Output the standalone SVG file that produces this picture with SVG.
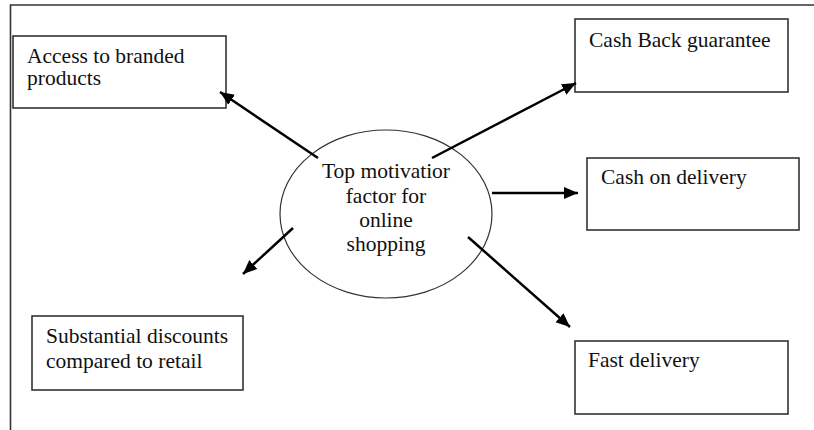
<svg xmlns="http://www.w3.org/2000/svg" width="814" height="430" viewBox="0 0 814 430">
<style>
.box{fill:#fff;stroke:#333;stroke-width:1.6}
.t{font-family:"Liberation Serif","Times New Roman","DejaVu Serif",serif;font-size:21.5px;fill:#111}
.c{text-anchor:middle}
.arr{stroke:#000;stroke-width:2.5;fill:none;marker-end:url(#ah)}
</style>
<defs>
<marker id="ah" markerUnits="userSpaceOnUse" markerWidth="16" markerHeight="14" refX="14" refY="7" orient="auto">
<path d="M0,1 L14,7 L0,13 Z" fill="#000"/>
</marker>
</defs>
<rect width="814" height="430" fill="#fff"/>
<path d="M10.5,430 V5 H814" fill="none" stroke="#333" stroke-width="1.6"/>
<g id="center">
<ellipse cx="386" cy="214" rx="106" ry="84" fill="#fff" stroke="#333" stroke-width="1.2"/>
<text class="t c" x="386" y="178">Top motivatior</text>
<text class="t c" x="386" y="203">factor for</text>
<text class="t c" x="386" y="227">online</text>
<text class="t c" x="386" y="251">shopping</text>
</g>
<g id="access">
<rect class="box" x="13" y="36" width="213" height="72"/>
<text class="t" x="27" y="63">Access to branded</text>
<text class="t" x="27" y="85">products</text>
</g>
<g id="cashback">
<rect class="box" x="575" y="19" width="213" height="73"/>
<text class="t" x="589" y="47">Cash Back guarantee</text>
</g>
<g id="cod">
<rect class="box" x="587" y="158" width="212" height="72"/>
<text class="t" x="601" y="184">Cash on delivery</text>
</g>
<g id="discounts">
<rect class="box" x="32" y="316" width="211" height="74"/>
<text class="t" x="46" y="343">Substantial discounts</text>
<text class="t" x="46" y="368">compared to retail</text>
</g>
<g id="fast">
<rect class="box" x="575" y="341" width="213" height="73"/>
<text class="t" x="588" y="367">Fast delivery</text>
</g>
<g id="connectors">
<line class="arr" x1="318" y1="158" x2="220" y2="92"/>
<line class="arr" x1="432" y1="158" x2="576" y2="83"/>
<line class="arr" x1="492" y1="193" x2="578" y2="193"/>
<line class="arr" x1="293" y1="228" x2="243" y2="274"/>
<line class="arr" x1="468" y1="237" x2="570" y2="327"/>
</g>
</svg>
